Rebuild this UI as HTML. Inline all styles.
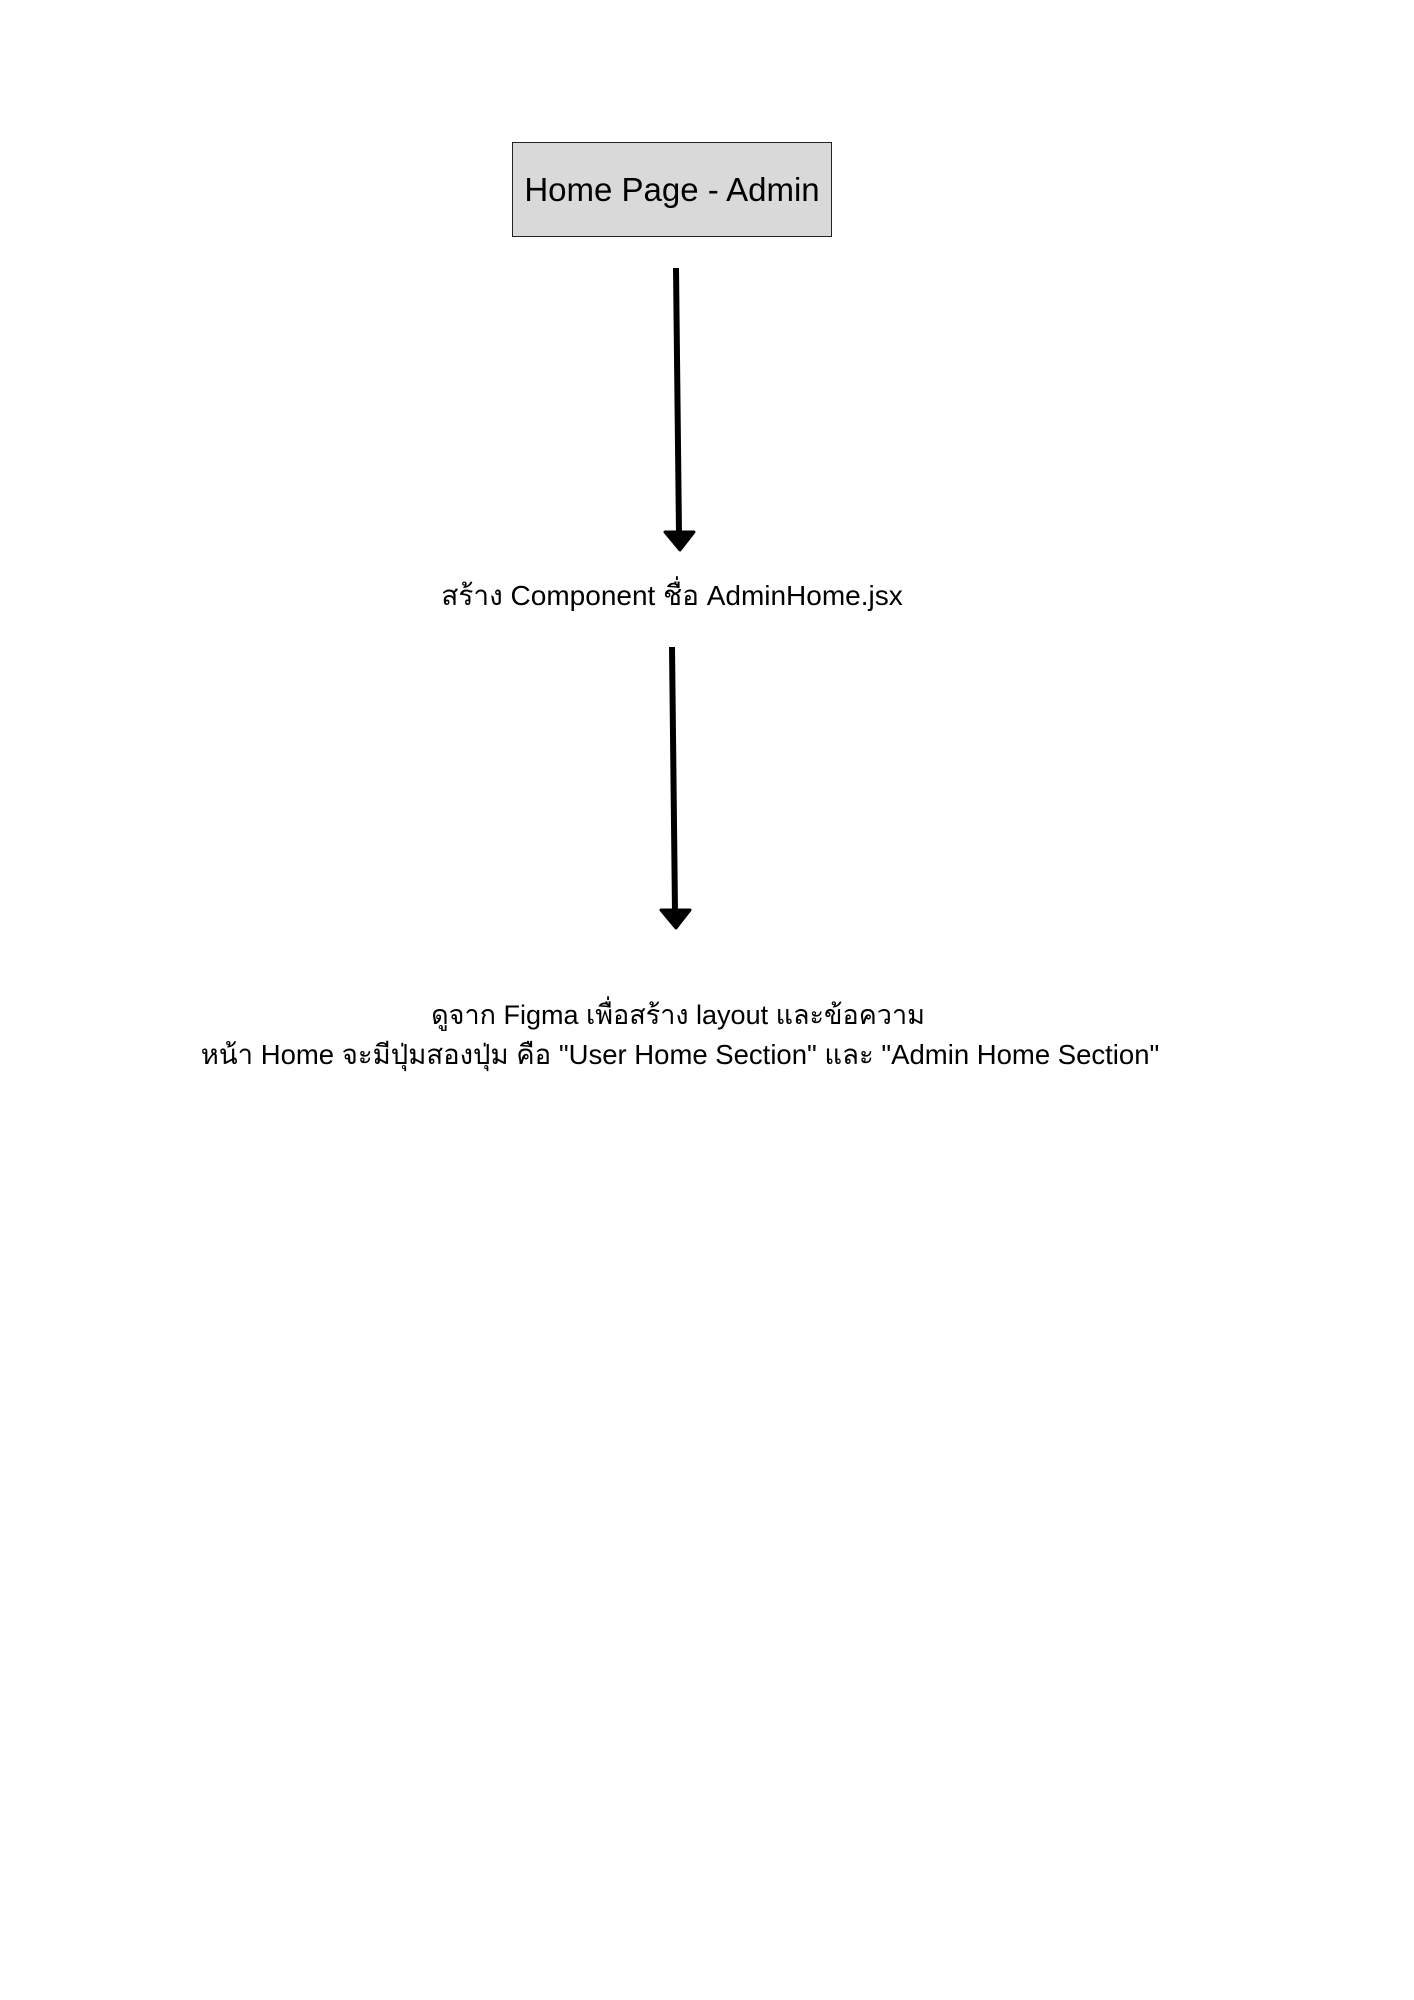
<!DOCTYPE html>
<html><head><meta charset="utf-8"><style>
html,body{margin:0;padding:0;background:#fff;}
body{width:1414px;height:2000px;position:relative;overflow:hidden;font-family:"Liberation Sans",sans-serif;color:#000;}
.box{position:absolute;left:512px;top:142px;width:318px;height:93px;background:#d9d9d9;border:1.5px solid #222;display:flex;align-items:center;justify-content:center;font-size:33px;}
.t{position:absolute;left:0;width:1414px;text-align:center;font-size:27px;white-space:nowrap;}
svg{position:absolute;left:0;top:0;}
</style></head><body>
<div class="box">Home Page - Admin</div>
<svg width="1414" height="2000">
<line x1="676" y1="268" x2="679" y2="535" stroke="#000" stroke-width="6"/>
<path d="M665 532 L694 532 L680 550 Z" fill="#000" stroke="#000" stroke-width="3" stroke-linejoin="round"/>
<line x1="672" y1="647" x2="675" y2="912" stroke="#000" stroke-width="6"/>
<path d="M661 910 L690 910 L676 928 Z" fill="#000" stroke="#000" stroke-width="3" stroke-linejoin="round"/>
</svg>
<div class="t" style="top:574px;left:-35px;font-size:28px;">สร้าง Component ชื่อ AdminHome.jsx</div>
<div class="t" style="top:993px;left:-29px;font-size:27px;">ดูจาก Figma เพื่อสร้าง layout และข้อความ</div>
<div class="t" style="top:1033px;left:-27px;font-size:27.5px;">หน้า Home จะมีปุ่มสองปุ่ม คือ "User Home Section" และ "Admin Home Section"</div>
</body></html>
